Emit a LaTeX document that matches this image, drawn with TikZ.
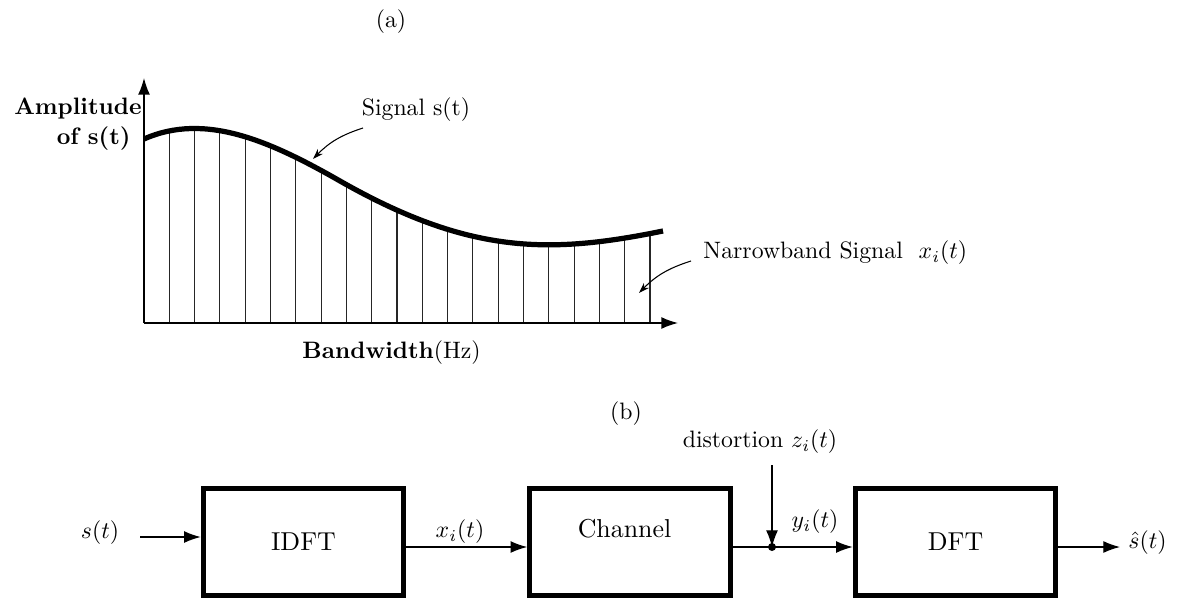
\documentclass[tikz,border=0pt]{standalone}
\usetikzlibrary{arrows.meta,calc}
\begin{document}
\begin{tikzpicture}[x=0.0148cm,y=-0.0148cm,
  bigtip/.style={-{Latex[length=7pt,width=5pt]}},
  wire/.style={line width=0.5pt},
  boxfont/.style={font=\fontsize{10.9}{13}\selectfont},
  block/.style={draw,line width=2.1pt,minimum width=84.5pt,minimum height=45pt,inner sep=0pt,boxfont},
  callout/.style={-{Stealth[length=4.5pt,width=3pt]},line width=0.45pt},
  strip/.style={line width=0.45pt,draw=black!85},
  tag/.style={inner sep=0pt}]
\useasboundingbox (0,0) rectangle (1179,603);

% ---------------- (a) spectrum of the wideband signal ----------------
\node[tag] (lbla) at (391,22) {(a)};

\coordinate (O) at (144,323);
\coordinate (ytip) at (144,78);
\coordinate (xtip) at (678,323);

% narrowband sub-channels, cut off at the envelope of s(t)
\begin{scope}
  \clip (144,139) .. controls (205,112) and (270,141) .. (340,181)
        .. controls (470,255) and (550,254) .. (663,231)
        -- (663,323) -- (144,323) -- cycle;
  \foreach \i in {1,...,20}
    \draw[strip] ({144+25.3*\i},323) -- ({144+25.3*\i},100);
\end{scope}

% axes
\draw[line width=0.6pt,bigtip] (O) -- (ytip);
\draw[line width=0.6pt,bigtip] (O) -- (xtip);

% signal envelope s(t)
\draw[line width=2.2pt] (144,139) .. controls (205,112) and (270,141) .. (340,181)
        .. controls (470,255) and (550,254) .. (663,231);

% axis labels
\node[tag,anchor=east] (amp1) at (142,109) {\textbf{Amplitude}};
\node[tag,anchor=east] (amp2) at (131,139) {\textbf{of s(t)}};
\node[tag,anchor=west] (bw) at (302,353) {\textbf{Bandwidth}(Hz)};

% callouts
\node[tag] (sig) at (416,110) {Signal s(t)};
\coordinate (sigfrom) at (363,128);
\coordinate (sigto) at (313,159);
\draw[callout] (sigfrom) to[bend right=14] (sigto);

\node[tag,anchor=west] (nb) at (703,253) {Narrowband Signal \ $x_i(t)$};
\coordinate (nbfrom) at (691,261);
\coordinate (nbto) at (639,293);
\draw[callout] (nbfrom) to[bend right=14] (nbto);

% ---------------- (b) processing chain ----------------
\node[tag] (lblb) at (626,414) {(b)};

\node[block] (idft) at (303.5,542) {IDFT};
\node[block] (chan) at (630,542) {};
\node[tag,boxfont] (chanlbl) at (624.5,529) {Channel};
\node[block] (dft) at (955.5,542) {DFT};

% input s(t)
\node[tag] (sin) at (100,533) {$s(t)$};
\coordinate (sstart) at (140,537);
\draw[wire,bigtip] (sstart) -- (idft.west |- sstart);

% IDFT -> Channel
\coordinate (xline) at (0,547);
\draw[wire,bigtip] (idft.east |- xline) -- (chan.west |- xline);
\node[tag] (xlbl) at (460,532) {$x_i(t)$};

% additive distortion
\coordinate (j) at (772,547);
\coordinate (dtop) at (772,465);
\node[tag] (dist) at (760,442) {distortion $z_i(t)$};
\draw[wire] (chan.east |- j) -- (j);
\draw[wire,bigtip] (dtop) -- (j);
\fill (j) circle (4);
\draw[wire,bigtip] (j) -- (dft.west |- j);
\node[tag] (ylbl) at (815,522) {$y_i(t)$};

% output
\coordinate (out) at (1120,547);
\draw[wire,bigtip] (dft.east |- out) -- (out);
\node[tag,anchor=west] (shat) at (1128,543) {$\hat{s}(t)$};
\end{tikzpicture}
\end{document}
